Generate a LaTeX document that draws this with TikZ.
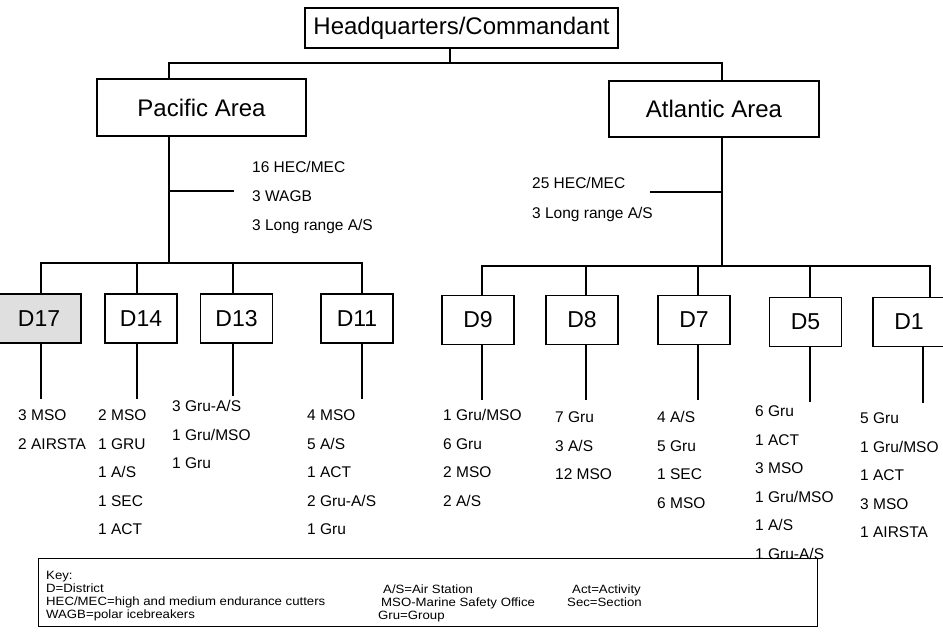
\documentclass[tikz,border=0pt]{standalone}
\usepackage{fontspec}
\setmainfont{Liberation Sans}
\newfontfamily\keyfont[FakeStretch=1.1]{Liberation Sans}
\begin{document}
\begin{tikzpicture}[x=1pt,y=-1pt,
  every node/.style={inner sep=0pt},
  ln/.style={line width=1.3pt},
  big/.style={draw, line width=1.3pt, fill=white, font=\fontsize{24}{24}\selectfont},
  dbox/.style={draw, line width=1.3pt, fill=white, minimum height=49pt, minimum width=72pt, font=\fontsize{23}{23}\selectfont},
  lst/.style={anchor=north west, align=left, font=\fontsize{15.5}{28.5}\selectfont},
  keytxt/.style={anchor=north west, align=left, font=\keyfont\fontsize{12}{13}\selectfont}]
\useasboundingbox (0,0) rectangle (943,639);
\fill[white] (0,0) rectangle (943,639);

% top level
\node[big, minimum width=313pt, minimum height=40pt] (hq) at (461.5,28) {Headquarters/Commandant};
\node[big, minimum width=209pt, minimum height=57pt] (pac) at (201.5,107.5) {Pacific Area};
\node[big, minimum width=210pt, minimum height=56pt] (atl) at (714,109) {Atlantic Area};

\coordinate (tb) at (450,63);
\draw[ln] (hq.south -| tb) -- (tb);
\draw[ln] (tb) -| ([xshift=-32.5pt]pac.north);
\draw[ln] (tb) -| ([xshift=8pt]atl.north);

% Pacific stem and info
\coordinate (pbus) at (169,263);
\draw[ln] (pac.south -| pbus) -- (pbus);
\coordinate (ptick) at (234,191);
\draw[ln] (ptick -| pbus) -- (ptick);
\node[lst, font=\fontsize{15.5}{29}\selectfont] (pinfo) at (252,161.5) {16 HEC/MEC\\3 WAGB\\3 Long range A/S};

% Atlantic stem and info
\coordinate (abus) at (722,266);
\draw[ln] (atl.south -| abus) -- (abus);
\coordinate (atick) at (650,192);
\draw[ln] (atick) -- (atick -| abus);
\node[lst, font=\fontsize{15.5}{30}\selectfont] (ainfo) at (532,177.5) {25 HEC/MEC\\3 Long range A/S};

% districts
\node[dbox, fill=gray!25, minimum width=84pt] (d17) at (39,318.5) {D17};
\node[dbox] (d14) at (141,318.5) {D14};
\node[dbox] (d13) at (236.5,318.5) {D13};
\node[dbox] (d11) at (357,318.5) {D11};
\node[dbox] (d9) at (478,320) {D9};
\node[dbox] (d8) at (582,320) {D8};
\node[dbox] (d7) at (694,320) {D7};
\node[dbox] (d5) at (805.5,322) {D5};
\node[dbox] (d1) at (909,322) {D1};

\foreach \n/\s in {d17/2,d14/-4,d13/-3.5,d11/5}
  \draw[ln] ([xshift=\s pt]\n.north) |- (pbus);
\foreach \n/\s in {d9/4,d8/4,d7/4,d5/4.5,d1/21}
  \draw[ln] ([xshift=\s pt]\n.north) |- (abus);

\foreach \n/\s/\l in {d17/2/55,d14/-4/55,d13/-3.5/52,d11/5/55,d9/4/55,d8/4/55,d7/4/55,d5/4.5/55,d1/14/56}
  \draw[ln] ([xshift=\s pt]\n.south) -- ++(0,\l);

% lists
\node[lst] (l17) at (18,409.5) {3 MSO\\2 AIRSTA};
\node[lst] (l14) at (98,409.5) {2 MSO\\1 GRU\\1 A/S\\1 SEC\\1 ACT};
\node[lst] (l13) at (172,400.5) {3 Gru-A/S\\1 Gru/MSO\\1 Gru};
\node[lst] (l11) at (307,409.5) {4 MSO\\5 A/S\\1 ACT\\2 Gru-A/S\\1 Gru};
\node[lst] (l9) at (443,409.5) {1 Gru/MSO\\6 Gru\\2 MSO\\2 A/S};
\node[lst] (l8) at (555,411.5) {7 Gru\\3 A/S\\12 MSO};
\node[lst] (l7) at (657,411.5) {4 A/S\\5 Gru\\1 SEC\\6 MSO};
\node[lst] (l5) at (755,405.5) {6 Gru\\1 ACT\\3 MSO\\1 Gru/MSO\\1 A/S\\1 Gru-A/S};
\node[lst] (l1) at (860,412.5) {5 Gru\\1 Gru/MSO\\1 ACT\\3 MSO\\1 AIRSTA};

% key
\node[draw, line width=1.3pt, minimum width=779pt, minimum height=68pt, anchor=north west] (keybox) at (38,558) {};
\node[keytxt] (k1) at (46,571.5) {Key:\\D=District\\HEC/MEC=high and medium endurance cutters\\WAGB=polar icebreakers};
\node[keytxt] (k2a) at (383,584.5) {A/S=Air Station};
\node[keytxt] (k2b) at (381,597.5) {MSO-Marine Safety Office};
\node[keytxt] (k2c) at (378,610.5) {Gru=Group};
\node[keytxt] (k3a) at (572,584.5) {Act=Activity};
\node[keytxt] (k3b) at (567,597.5) {Sec=Section};
\end{tikzpicture}
\end{document}
